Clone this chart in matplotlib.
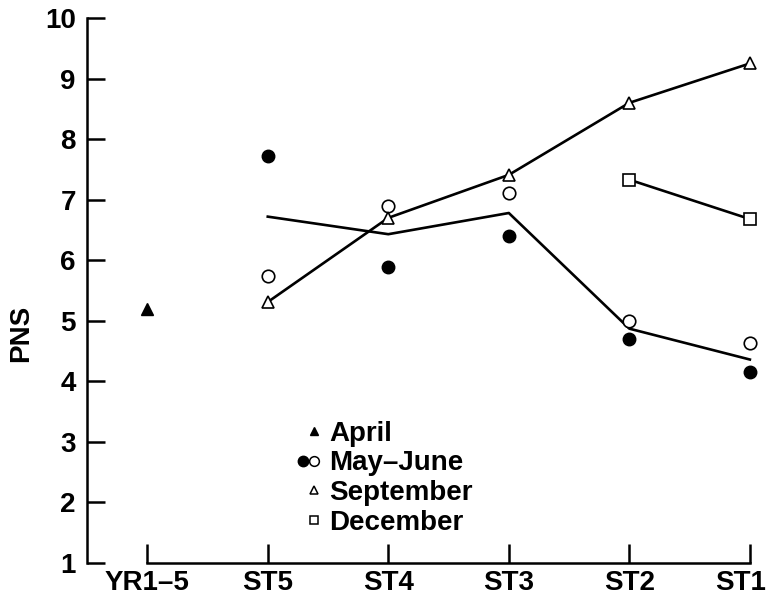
import matplotlib
matplotlib.use("Agg")
import matplotlib.pyplot as plt
import matplotlib.transforms as mtransforms
from matplotlib.lines import Line2D
from matplotlib.legend_handler import HandlerTuple

plt.rcParams['font.family'] = ['Liberation Sans', 'DejaVu Sans']
plt.rcParams['font.weight'] = 'bold'

# categories along the x axis
stages = ["YR1–5", "ST5", "ST4", "ST3", "ST2", "ST1"]

# April: only YR1-5
april_x = [0]
april_y = [5.2]

# May-June, two samples (filled / open) plus mean line
may_x = [1, 2, 3, 4, 5]
may_filled = [7.72, 5.88, 6.40, 4.70, 4.16]
may_open = [5.74, 6.90, 7.11, 5.00, 4.63]
may_mean = [6.72, 6.43, 6.78, 4.87, 4.36]

# September
sep_x = [1, 2, 3, 4, 5]
sep_y = [5.31, 6.70, 7.41, 8.60, 9.25]

# December
dec_x = [4, 5]
dec_y = [7.33, 6.68]

fig = plt.figure(figsize=(7.67, 5.96), dpi=100)
ax = fig.add_axes([0.1134, 0.0554, 0.880, 0.9245])

lw = 1.9
ax.plot(may_x, may_mean, color='black', lw=lw, zorder=2)
ax.plot(sep_x, sep_y, color='black', lw=lw, zorder=2)
ax.plot(dec_x, dec_y, color='black', lw=lw, zorder=2)

ax.plot(april_x, april_y, ls='none', marker='^', ms=8, color='black', zorder=3)
ax.plot(may_x, may_filled, ls='none', marker='o', ms=9, color='black', zorder=3)
ax.plot(may_x, may_open, ls='none', marker='o', ms=9, mfc='white', mec='black',
        mew=1.2, zorder=3)
ax.plot(sep_x, sep_y, ls='none', marker='^', ms=8, mfc='white', mec='black',
        mew=1.2, zorder=3)
ax.plot(dec_x, dec_y, ls='none', marker='s', ms=8, mfc='white', mec='black',
        mew=1.2, zorder=3)

ax.set_xlim(-0.5, 5.1)
ax.set_ylim(1, 10.1)

for s in ['top', 'right']:
    ax.spines[s].set_visible(False)
ax.spines['left'].set_bounds(1, 10)
ax.spines['bottom'].set_bounds(0, 5)
ax.spines['left'].set_linewidth(1.8)
ax.spines['bottom'].set_linewidth(1.8)

ax.set_xticks(range(len(stages)))
ax.set_xticklabels(stages)
ax.set_yticks(range(1, 11))
ax.tick_params(axis='x', direction='in', length=14, width=1.8, pad=5, labelsize=20)
ax.tick_params(axis='y', direction='in', length=13, width=1.8, pad=8, labelsize=20)

# last label sits a bit left of its tick so it stays inside the figure
last = ax.get_xticklabels()[-1]
last.set_transform(last.get_transform() +
                   mtransforms.ScaledTranslation(-9 / 100, 0, fig.dpi_scale_trans))

ax.set_ylabel("PNS", fontsize=20, fontweight='bold', labelpad=8)
ax.yaxis.label.set_y(0.417)

blank = Line2D([], [], ls='none', marker=None)
h_april = Line2D([], [], ls='none', marker='^', ms=6, color='black')
h_mf = Line2D([], [], ls='none', marker='o', ms=7.5, color='black')
h_mo = Line2D([], [], ls='none', marker='o', ms=7, mfc='white', mec='black', mew=1.1)
h_sep = Line2D([], [], ls='none', marker='^', ms=6, mfc='white', mec='black', mew=1.1)
h_dec = Line2D([], [], ls='none', marker='s', ms=6, mfc='white', mec='black', mew=1.1)

ax.legend([(blank, h_april), (h_mf, h_mo), (blank, h_sep), (blank, h_dec)],
          ["April", "May–June", "September", "December"],
          handler_map={tuple: HandlerTuple(ndivide=None, pad=0.0)},
          loc='upper left', bbox_to_anchor=(0.312, 0.258), frameon=False,
          fontsize=20, handlelength=0.8, handletextpad=0.35, labelspacing=0.13,
          borderpad=0, borderaxespad=0)

fig.savefig("out.png", dpi=100)
